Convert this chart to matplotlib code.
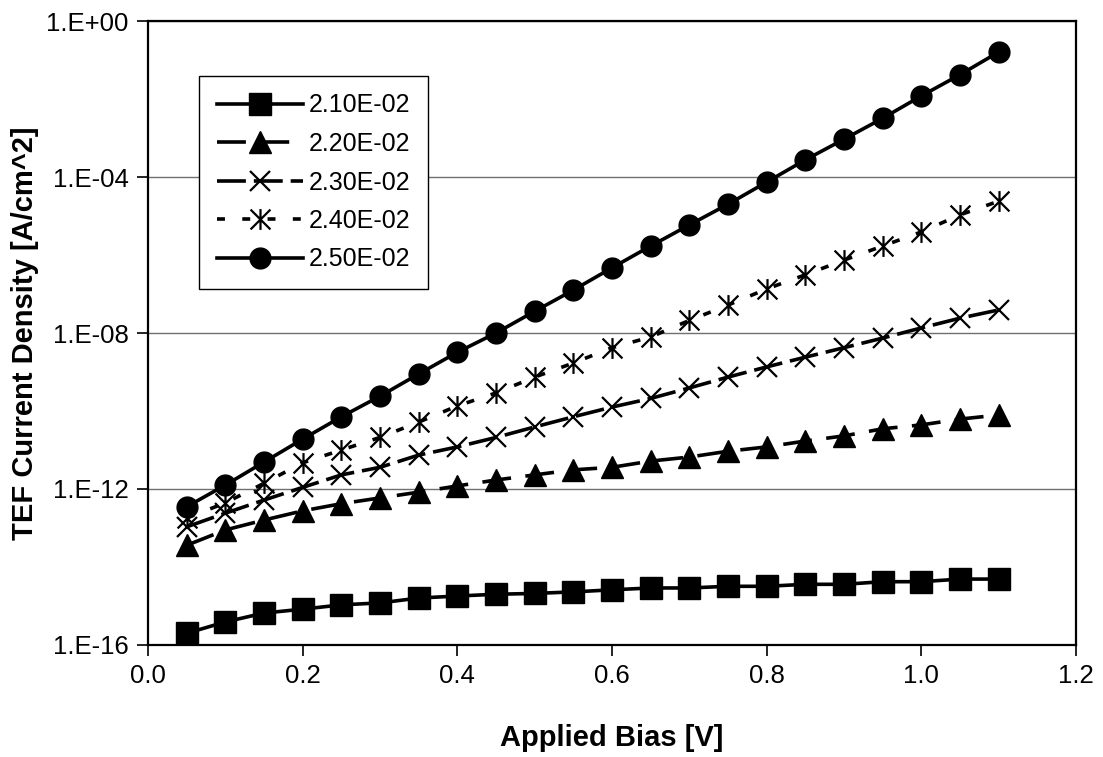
import numpy as np
import matplotlib
matplotlib.use("Agg")
import matplotlib.pyplot as plt
from matplotlib.path import Path
from matplotlib.ticker import FixedLocator, FuncFormatter, NullLocator

plt.rcParams['font.family'] = ['Liberation Sans', 'DejaVu Sans']

bias = [0.05, 0.10, 0.15, 0.20, 0.25, 0.30, 0.35, 0.40, 0.45, 0.50, 0.55,
        0.60, 0.65, 0.70, 0.75, 0.80, 0.85, 0.90, 0.95, 1.00, 1.05, 1.10]

j_210 = [2.0e-16, 3.9e-16, 6.6e-16, 8.3e-16, 1.07e-15, 1.2e-15, 1.6e-15, 1.8e-15,
         2.0e-15, 2.1e-15, 2.3e-15, 2.6e-15, 2.9e-15, 2.9e-15, 3.2e-15, 3.2e-15,
         3.6e-15, 3.6e-15, 4.2e-15, 4.2e-15, 4.9e-15, 4.9e-15]
j_220 = [3.6e-14, 8.9e-14, 1.6e-13, 2.75e-13, 4.2e-13, 5.9e-13, 8.3e-13, 1.2e-12,
         1.7e-12, 2.3e-12, 3.1e-12, 3.6e-12, 5.2e-12, 6.6e-12, 9.3e-12, 1.2e-11,
         1.7e-11, 2.3e-11, 3.5e-11, 4.4e-11, 6.2e-11, 7.9e-11]
j_230 = [1.07e-13, 2.4e-13, 5.2e-13, 1.1e-12, 2.3e-12, 3.6e-12, 7.4e-12, 1.2e-11,
         2.1e-11, 3.9e-11, 7.1e-11, 1.26e-10, 2.1e-10, 3.9e-10, 7.4e-10, 1.35e-9,
         2.4e-9, 4.2e-9, 7.4e-9, 1.35e-8, 2.4e-8, 3.9e-8]
j_240 = [1.8e-13, 4.4e-13, 1.4e-12, 4.7e-12, 1.0e-11, 2.1e-11, 5.2e-11, 1.35e-10,
         2.9e-10, 7.4e-10, 1.7e-9, 4.2e-9, 7.9e-9, 2.1e-8, 5.2e-8, 1.35e-7,
         3.1e-7, 7.4e-7, 1.7e-6, 3.9e-6, 1.07e-5, 2.4e-5]
j_250 = [3.5e-13, 1.26e-12, 4.9e-12, 1.9e-11, 7.1e-11, 2.4e-10, 8.9e-10, 3.2e-9,
         1.0e-8, 3.6e-8, 1.26e-7, 4.7e-7, 1.7e-6, 5.9e-6, 2.0e-5, 7.4e-5,
         2.75e-4, 9.3e-4, 3.2e-3, 1.2e-2, 4.2e-2, 0.16]

labels = ["2.10E-02", "2.20E-02", "2.30E-02", "2.40E-02", "2.50E-02"]
x_ticks = [0.0, 0.2, 0.4, 0.6, 0.8, 1.0, 1.2]
y_ticks = [1e-16, 1e-12, 1e-8, 1e-4, 1e0]

# asterisk = x with a vertical bar through it
star = Path([(-1, -1), (1, 1), (-1, 1), (1, -1), (0, -1.05), (0, 1.05)],
            [Path.MOVETO, Path.LINETO, Path.MOVETO, Path.LINETO, Path.MOVETO, Path.LINETO])

fig = plt.figure(figsize=(11.03, 7.57), dpi=100)
ax = fig.add_axes([148/1103, 1-645/757, 928/1103, 624/757])

lw = 2.6
ax.plot(bias, j_210, color='k', lw=lw, ls='-', marker='s', ms=15.5, label=labels[0])
ax.plot(bias, j_220, color='k', lw=lw, ls=(0, (8, 4)), marker='^', ms=16, label=labels[1])
ax.plot(bias, j_230, color='k', lw=lw, ls=(0, (8, 2.2)), marker='x', ms=14, mew=1.6, label=labels[2])
ax.plot(bias, j_240, color='k', lw=lw, ls=(0, (2.2, 4.8)), marker=star, ms=15, mew=1.6,
        mfc='none', label=labels[3])
ax.plot(bias, j_250, color='k', lw=lw, ls='-', marker='o', ms=15, label=labels[4])

ax.set_yscale('log')
ax.set_xlim(0, 1.2)
ax.set_ylim(1e-16, 1)
ax.xaxis.set_major_locator(FixedLocator(x_ticks))
ax.yaxis.set_major_locator(FixedLocator(y_ticks))
ax.yaxis.set_minor_locator(NullLocator())
ax.xaxis.set_major_formatter(FuncFormatter(lambda v, p: f"{v:.1f}"))
ax.yaxis.set_major_formatter(FuncFormatter(lambda v, p: f"1.E{int(round(np.log10(v))):+03d}"))
ax.tick_params(direction='out', length=8, width=1.2, labelsize=18.5, pad=6, colors='k')
ax.grid(axis='y', color='#707070', lw=1.0)
ax.set_axisbelow(True)
for s in ax.spines.values():
    s.set_linewidth(1.6)
    s.set_color('k')

ax.set_xlabel("Applied Bias [V]", fontsize=21, fontweight='bold')
ax.set_ylabel("TEF Current Density [A/cm^2]", fontsize=21, fontweight='bold')
ax.xaxis.set_label_coords(0.5, -0.127)
ax.yaxis.set_label_coords(-0.117, 0.5)

leg = ax.legend(loc='upper left', bbox_to_anchor=(199/1103, 1-76/757),
                bbox_transform=fig.transFigure, borderaxespad=0, fontsize=18,
                numpoints=1, handlelength=3.45, handletextpad=0.25,
                labelspacing=0.58, borderpad=0.7, fancybox=False, framealpha=1)
leg.get_frame().set_edgecolor('k')
leg.get_frame().set_linewidth(1.0)

fig.savefig("out.png", dpi=100)
